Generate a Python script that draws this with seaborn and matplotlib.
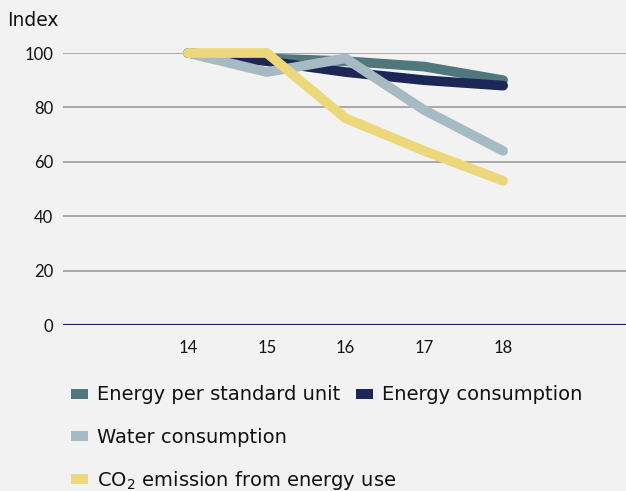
import pandas as pd
import seaborn as sns
import matplotlib.pyplot as plt
from matplotlib.patches import Patch

years = [14, 15, 16, 17, 18]
energy_per_unit = [100, 98, 97, 95, 90]
energy_consumption = [100, 97, 93, 90, 88]
water_consumption = [100, 93, 98, 79, 64]
co2_emission = [100, 100, 76, 64, 53]

series_names = ["Energy per standard unit", "Energy consumption",
                "Water consumption", "CO$_{\\mathregular{2}}$ emission from energy use"]
colors = ["#4f777c", "#1c2757", "#a6bac4", "#ecd87a"]
y_ticks = [0, 20, 40, 60, 80, 100]

df = pd.DataFrame({
    "year": years * 4,
    "value": energy_per_unit + energy_consumption + water_consumption + co2_emission,
    "series": sum([[n] * len(years) for n in series_names], []),
})

sns.set_style("white")
plt.rcParams["font.family"] = ["Lato", "DejaVu Sans"]
plt.rcParams["mathtext.fontset"] = "custom"
plt.rcParams["mathtext.rm"] = "DejaVu Sans"

bg = "#f2f2f2"
txt = "#111111"
fig = plt.figure(figsize=(6.26, 4.91), dpi=100, facecolor=bg)
ax = fig.add_axes([63 / 626, 1 - 325 / 491, 1 - 63 / 626, (325 - 53) / 491])
ax.set_facecolor(bg)

# grid lines
for t in y_ticks[1:]:
    ax.axhline(t, color="#a8a8a8", lw=1.4, zorder=1)
ax.axhline(0, color="#1c2757", lw=1.6, zorder=1)

sns.lineplot(data=df, x="year", y="value", hue="series", hue_order=series_names,
             palette=colors, linewidth=7, legend=False, ax=ax,
             solid_capstyle="round", solid_joinstyle="round", zorder=3, clip_on=False)

ax.set_xlim(14 - 1.587, 14 + 5.56)
ax.set_ylim(0, 100)
ax.set_xticks(years)
ax.set_yticks(y_ticks)
ax.tick_params(axis="both", length=0, labelsize=12, colors=txt)
ax.tick_params(axis="x", pad=11)
ax.tick_params(axis="y", pad=7)
ax.set_xlabel("")
ax.set_ylabel("")
for s in ax.spines.values():
    s.set_visible(False)

fig.text(7 / 626, 1 - 20 / 491, "Index", fontsize=13.5, family="DejaVu Sans",
         va="center", ha="left", color=txt)

handles = [Patch(facecolor=c, edgecolor="none") for c in colors]
leg_font = {"family": "DejaVu Sans", "size": 14}
fig.legend(handles[:2], series_names[:2], loc="center left",
           bbox_to_anchor=(71 / 626, 1 - 395 / 491), ncol=2, frameon=False,
           prop=leg_font, handlelength=0.88, handleheight=0.42, handletextpad=0.45,
           columnspacing=0.8, borderpad=0, borderaxespad=0, labelcolor=txt)
fig.legend(handles[2:], series_names[2:], loc="upper left",
           bbox_to_anchor=(71 / 626, 1 - 428 / 491), ncol=1, frameon=False,
           prop=leg_font, handlelength=0.88, handleheight=0.42, handletextpad=0.45,
           labelspacing=1.15, borderpad=0, borderaxespad=0, labelcolor=txt)

plt.savefig("out.png", dpi=100, facecolor=bg)
